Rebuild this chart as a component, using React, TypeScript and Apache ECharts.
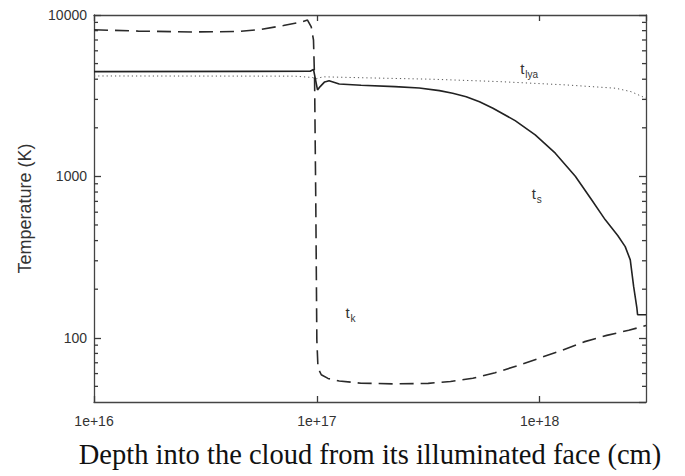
import React, { useEffect, useRef } from "react";
import * as echarts from "echarts";

// ---- data ----
const tkDepth = [1e16, 1.58e16, 2.82e16, 4.47e16, 5.62e16, 7.08e16, 8.51e16, 9.08e16, 9.44e16, 9.66e16, 9.77e16, 9.89e16, 1.0e17, 1.012e17, 1.047e17, 1.122e17, 1.26e17, 1.58e17, 2.24e17, 3.16e17, 3.98e17, 5.01e17, 6.31e17, 7.94e17, 1.0e18, 1.26e18, 1.58e18, 2.0e18, 2.51e18, 3.0e18];
const tkTemp = [8100, 7950, 7850, 7900, 8150, 8600, 9050, 9310, 8430, 7000, 3970, 716, 97, 65, 59, 56, 54, 52.3, 51.8, 52.2, 53.6, 56.1, 60.8, 67, 74.9, 83.6, 94.3, 103.5, 111.3, 119];

const tsDepth = [1e16, 9.33e16, 9.66e16, 9.89e16, 1.007e17, 1.035e17, 1.084e17, 1.135e17, 1.26e17, 1.58e17, 2.24e17, 2.88e17, 3.55e17, 4.07e17, 4.68e17, 5.37e17, 6.17e17, 7.76e17, 9.55e17, 1.175e18, 1.445e18, 1.71e18, 1.97e18, 2.24e18, 2.42e18, 2.55e18, 2.64e18, 2.73e18, 2.75e18, 3.0e18];
const tsTemp = [4456, 4480, 4600, 3900, 3436, 3600, 3850, 3917, 3740, 3670, 3600, 3530, 3398, 3271, 3118, 2900, 2642, 2215, 1806, 1393, 1003, 716, 538, 430, 367, 304, 208, 153, 139, 139];

const tlyaDepth = [1e16, 7.94e16, 9.55e16, 9.89e16, 1.023e17, 1.07e17, 1.66e17, 3.29e17, 6.56e17, 1.306e18, 2.19e18, 2.57e18, 3.0e18];
const tlyaTemp = [4190, 4180, 4100, 4015, 4080, 4140, 4080, 4000, 3867, 3689, 3518, 3350, 3050];

const yMinorTicks = [50, 60, 70, 80, 90, 200, 300, 400, 500, 600, 700, 800, 900, 2000, 3000, 4000, 5000, 6000, 7000, 8000, 9000];

const labelMain = ["t", "t", "t"];
const labelSub = ["lya", "s", "k"];
const labelDepth = [8.19e17, 9.22e17, 1.346e17];
const labelTemp = [4160, 700, 128];

const X_MIN = 1e16;
const X_MAX = 3e18;
const Y_MIN = 40;
const Y_MAX = 10000;

const pairs = (xs: number[], ys: number[]) => xs.map((x, i) => [x, ys[i]]);

export default function App() {
  const ref = useRef<HTMLDivElement>(null);

  useEffect(() => {
    if (!ref.current) return;
    const chart = echarts.init(ref.current, null, { renderer: "svg" });
    const axisColor = "#444";
    const tickColor = "#3a3a3a";
    const labelFont = { fontFamily: "Liberation Sans, Arial, sans-serif", fontSize: 14, color: "#333" };
    const isPow10 = (v: number) => {
      const l = Math.log10(v);
      return Math.abs(l - Math.round(l)) < 1e-6;
    };

    const option: any = {
      animation: false,
      backgroundColor: "#ffffff",
      grid: { left: 94, right: 39, top: 15, bottom: 74 },
      xAxis: [
        {
          type: "log",
          min: X_MIN,
          max: X_MAX,
          position: "bottom",
          splitLine: { show: false },
          axisLine: { show: true, lineStyle: { color: axisColor, width: 1.3 } },
          axisTick: { show: true, inside: true, length: 6, lineStyle: { color: tickColor, width: 1.3 } },
          axisLabel: {
            show: true,
            margin: 12,
            showMaxLabel: false,
            ...labelFont,
            formatter: (v: number) => (isPow10(v) ? "1e+" + Math.round(Math.log10(v)) : ""),
          },
          name: "Depth into the cloud from its illuminated face (cm)",
          nameLocation: "middle",
          nameGap: 38,
          nameTextStyle: { fontFamily: "Liberation Serif, Times New Roman, serif", fontSize: 28.5, color: "#111" },
        },
        {
          type: "log",
          min: X_MIN,
          max: X_MAX,
          position: "top",
          splitLine: { show: false },
          axisLine: { show: true, lineStyle: { color: axisColor, width: 1.3 } },
          axisTick: { show: true, inside: true, length: 6, lineStyle: { color: tickColor, width: 1.3 } },
          axisLabel: { show: false },
        },
      ],
      yAxis: [
        {
          type: "log",
          min: Y_MIN,
          max: Y_MAX,
          position: "left",
          splitLine: { show: false },
          axisLine: { show: true, lineStyle: { color: axisColor, width: 1.3 } },
          axisTick: { show: true, inside: true, length: 7, lineStyle: { color: tickColor, width: 1.3 } },
          axisLabel: {
            show: true,
            margin: 7,
            showMinLabel: false,
            ...labelFont,
            formatter: (v: number) => (isPow10(v) ? String(Math.round(v)) : ""),
          },
          name: "Temperature (K)",
          nameLocation: "middle",
          nameGap: 60,
          nameTextStyle: { fontFamily: "Liberation Sans, Arial, sans-serif", fontSize: 18, color: "#333" },
        },
        {
          type: "log",
          min: Y_MIN,
          max: Y_MAX,
          position: "right",
          splitLine: { show: false },
          axisLine: { show: true, lineStyle: { color: axisColor, width: 1.3 } },
          axisTick: { show: true, inside: true, length: 7, lineStyle: { color: tickColor, width: 1.3 } },
          axisLabel: { show: false },
        },
      ],
      series: [
        {
          name: "minor ticks",
          type: "custom",
          xAxisIndex: 0,
          yAxisIndex: 0,
          silent: true,
          clip: false,
          data: yMinorTicks.map((v) => [X_MIN, v]),
          renderItem: (params: any, api: any) => {
            const v = api.value(1);
            const p = api.coord([X_MIN, v]);
            const q = api.coord([X_MAX, v]);
            const st = { stroke: tickColor, lineWidth: 1.3 };
            return {
              type: "group",
              children: [
                { type: "line", shape: { x1: p[0], y1: p[1], x2: p[0] + 4, y2: p[1] }, style: st },
                { type: "line", shape: { x1: q[0], y1: q[1], x2: q[0] - 4, y2: q[1] }, style: st },
              ],
            };
          },
        },
        {
          name: "t_k",
          type: "line",
          showSymbol: false,
          data: pairs(tkDepth, tkTemp),
          lineStyle: { color: "#2a2a2a", width: 1.6, type: [14, 7] },
        },
        {
          name: "t_s",
          type: "line",
          showSymbol: false,
          data: pairs(tsDepth, tsTemp),
          lineStyle: { color: "#222", width: 1.6, type: "solid" },
        },
        {
          name: "t_lya",
          type: "line",
          showSymbol: false,
          data: pairs(tlyaDepth, tlyaTemp),
          lineStyle: { color: "#555", width: 1, type: [1.2, 3] },
        },
      ],
    };
    chart.setOption(option);

    const graphics: any[] = [];
    labelMain.forEach((m, i) => {
      const p = chart.convertToPixel({ xAxisIndex: 0, yAxisIndex: 0 } as any, [labelDepth[i], labelTemp[i]]) as number[];
      if (!p) return;
      graphics.push({
        type: "text",
        x: p[0],
        y: p[1],
        style: { text: m, fill: "#333", fontFamily: "Liberation Sans, Arial, sans-serif", fontSize: 15, textAlign: "left", textVerticalAlign: "bottom" },
      });
      graphics.push({
        type: "text",
        x: p[0] + 5,
        y: p[1] + 3,
        style: { text: labelSub[i], fill: "#333", fontFamily: "Liberation Sans, Arial, sans-serif", fontSize: 10, textAlign: "left", textVerticalAlign: "bottom" },
      });
    });
    chart.setOption({ graphic: graphics });

    return () => chart.dispose();
  }, []);

  return (
    <div
      ref={ref}
      style={{ position: "fixed", left: 0, top: 0, width: 685, height: 476, background: "#fff" }}
    />
  );
}
